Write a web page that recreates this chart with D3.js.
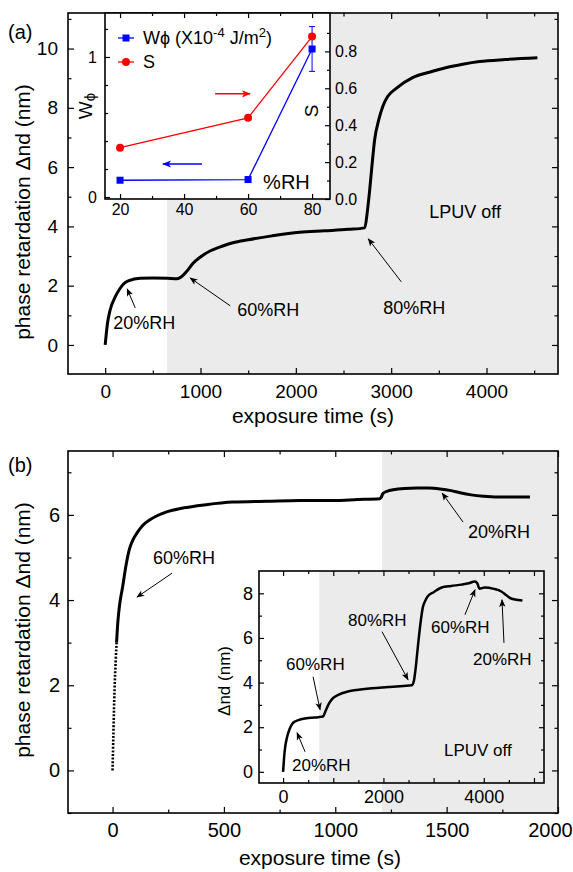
<!DOCTYPE html>
<html>
<head>
<meta charset="utf-8">
<title>Phase retardation vs exposure time</title>
<script src="https://d3js.org/d3.v7.min.js"></script>
<style>
	body { margin: 0; background: #fff; }
	text { font-family: "Liberation Sans", Arial, Helvetica, sans-serif; fill: #000; }
</style>
</head>
<body>
<script>
// ---- panel (a), main curve: exposure time (s) / phase retardation (nm)
var timeA = [0, 25, 52, 105, 150, 190, 250, 367, 500, 650, 754, 800, 860, 920, 1000, 1100, 1200, 1340, 1500, 1750,
	2040, 2300, 2550, 2723, 2750, 2775, 2800, 2827, 2870, 2911, 2963, 3050, 3225, 3400, 3581, 3750, 3927, 4200, 4534];
var retA = [0, 0.75, 1.18, 1.62, 1.88, 2.05, 2.17, 2.25, 2.26, 2.25, 2.23, 2.3, 2.5, 2.75, 2.97, 3.17, 3.3, 3.45, 3.55, 3.68,
	3.8, 3.85, 3.9, 3.95, 4.5, 5.24, 6.1, 6.93, 7.6, 8.04, 8.38, 8.65, 9.02, 9.2, 9.36, 9.47, 9.56, 9.63, 9.69];

// ---- panel (a), inset: anchoring energy and order parameter vs humidity
var rhLevels = [20, 60, 80];
var wphi = [0.12, 0.125, 1.057];
var wphiErr = [0, 0, 0.16];
var orderS = [0.278, 0.44, 0.88];

// ---- panel (b), main curve
var timeB = [0, 4, 9, 14, 18, 24, 32, 45, 60, 76, 95, 108, 121, 145, 166, 200, 243, 315, 420, 540,
	692, 840, 990, 1100, 1200, 1207, 1214, 1235, 1260, 1310, 1366, 1420, 1470, 1520, 1560, 1610, 1665, 1770, 1874];
var retB = [0, 0.9, 1.9, 2.55, 3.0, 3.5, 3.9, 4.3, 4.8, 5.2, 5.45, 5.56, 5.66, 5.8, 5.88, 5.98, 6.07, 6.16, 6.24, 6.3,
	6.32, 6.34, 6.34, 6.36, 6.38, 6.42, 6.5, 6.56, 6.59, 6.62, 6.63, 6.63, 6.61, 6.57, 6.52, 6.47, 6.44, 6.42, 6.42];
var dottedUntil = 4; // first points are drawn as dots

// ---- panel (b), inset curve
var timeBin = [0, 30, 80, 130, 180, 260, 380, 550, 700, 795, 850, 900, 975, 1100, 1290, 1500, 1770, 2100, 2400, 2565,
	2605, 2640, 2685, 2735, 2785, 2830, 2880, 3000, 3160, 3350, 3560, 3700, 3820, 3870, 3915, 4015, 4200, 4350, 4430, 4510, 4620, 4770];
var retBin = [0, 0.9, 1.56, 1.92, 2.14, 2.28, 2.37, 2.42, 2.45, 2.48, 2.75, 3.0, 3.26, 3.45, 3.6, 3.68, 3.75, 3.8, 3.85, 3.88,
	4.06, 4.6, 5.58, 6.6, 7.37, 7.65, 7.86, 8.05, 8.26, 8.33, 8.39, 8.45, 8.53, 8.45, 8.21, 8.26, 8.2, 8.08, 7.95, 7.81, 7.72, 7.68];

// tick values
var ticksA_x = [0, 1000, 2000, 3000, 4000], minorA_x = [500, 1500, 2500, 3500, 4500];
var ticksA_y = [0, 2, 4, 6, 8, 10], minorA_y = [1, 3, 5, 7, 9, 11];
var ticksI_x = [20, 40, 60, 80], minorI_x = [30, 50, 70];
var ticksI_w = [0, 1], minorI_w = [0.2, 0.4, 0.6, 0.8, 1.2];
var ticksI_s = [0, 0.2, 0.4, 0.6, 0.8], minorI_s = [0.1, 0.3, 0.5, 0.7, 0.9];
var ticksB_x = [0, 500, 1000, 1500, 2000], minorB_x = [250, 750, 1250, 1750];
var ticksB_y = [0, 2, 4, 6], minorB_y = [-1, 1, 3, 5, 7];
var ticksC_x = [0, 1000, 2000, 3000, 4000, 5000], labelsC_x = [0, 2000, 4000], minorC_x = [500, 1500, 2500, 3500, 4500];
var ticksC_y = [0, 2, 4, 6, 8], minorC_y = [1, 3, 5, 7];

var FONT = '"Liberation Sans", Arial, Helvetica, sans-serif';
var SHADE = "#ebebeb";

var svg = d3.select("body").append("svg").attr("width", 573).attr("height", 872);
var defs = svg.append("defs");

function marker(id, color, w, h) {
	defs.append("marker").attr("id", id)
		.attr("viewBox", "0 0 10 10").attr("refX", 9).attr("refY", 5)
		.attr("markerWidth", w).attr("markerHeight", h)
		.attr("markerUnits", "userSpaceOnUse").attr("orient", "auto")
		.append("path").attr("d", "M0,1 L10,5 L0,9 L2.5,5 Z").attr("fill", color);
}
marker("ah", "#000", 9, 8);
marker("ahRed", "#ff0000", 11, 9);
marker("ahBlue", "#0000ff", 11, 9);

// inward ticks with d3 axes
function ticks(g, scale, orient, pos, vals, len, fs, pad, fmt) {
	var fn = {bottom: d3.axisBottom, top: d3.axisTop, left: d3.axisLeft, right: d3.axisRight}[orient];
	var ax = fn(scale).tickValues(vals).tickSizeInner(-len).tickSizeOuter(0).tickPadding(pad || 0)
		.tickFormat(fmt || function () { return ""; });
	var horiz = orient == "bottom" || orient == "top";
	var sel = g.append("g")
		.attr("transform", horiz ? "translate(0," + pos + ")" : "translate(" + pos + ",0)")
		.call(ax);
	sel.select(".domain").remove();
	sel.selectAll(".tick line").attr("stroke", "#000").attr("stroke-width", 1.2);
	sel.selectAll(".tick text").attr("font-size", fs).attr("font-family", FONT).attr("fill", "#000");
	return sel;
}

function box(g, x, y) {
	g.append("rect")
		.attr("x", x.range()[0]).attr("y", y.range()[1])
		.attr("width", x.range()[1] - x.range()[0]).attr("height", y.range()[0] - y.range()[1])
		.attr("fill", "none").attr("stroke", "#000").attr("stroke-width", 1.6);
}

function shade(g, x, y, from) {
	g.append("rect")
		.attr("x", x(from)).attr("y", y.range()[1])
		.attr("width", x.range()[1] - x(from)).attr("height", y.range()[0] - y.range()[1])
		.attr("fill", SHADE);
}

function note(g, x, y, label, tx, ty, x1, y1, x2, y2, fs) {
	g.append("line")
		.attr("x1", x(x1)).attr("y1", y(y1)).attr("x2", x(x2)).attr("y2", y(y2))
		.attr("stroke", "#000").attr("stroke-width", 1).attr("marker-end", "url(#ah)");
	g.append("text").attr("x", x(tx)).attr("y", y(ty)).attr("font-size", fs).text(label);
}

function curve(g, x, y, xs, ys, width, dash) {
	var pts = xs.map(function (d, i) { return [d, ys[i]]; });
	g.append("path")
		.datum(pts)
		.attr("d", d3.line().x(function (d) { return x(d[0]); }).y(function (d) { return y(d[1]); }).curve(d3.curveMonotoneX))
		.attr("fill", "none").attr("stroke", "#000").attr("stroke-width", width)
		.attr("stroke-linejoin", "round")
		.attr("stroke-dasharray", dash || null);
}

var num = function (d) { return d; };

// =================== panel (a) ===================
var gA = svg.append("g");
var xA = d3.scaleLinear().domain([-390, 4750]).range([68, 558]);
var yA = d3.scaleLinear().domain([-0.98, 11.2]).range([374, 13]);

shade(gA, xA, yA, 650);
ticks(gA, xA, "bottom", 374, ticksA_x, 6, 19, 11, num);
ticks(gA, xA, "bottom", 374, minorA_x, 3.5, 19);
ticks(gA, xA, "top", 13, ticksA_x, 6, 19);
ticks(gA, xA, "top", 13, minorA_x, 3.5, 19);
ticks(gA, yA, "left", 68, ticksA_y, 6, 19, 10, num);
ticks(gA, yA, "left", 68, minorA_y, 3.5, 19);
ticks(gA, yA, "right", 558, ticksA_y, 6, 19);
ticks(gA, yA, "right", 558, minorA_y, 3.5, 19);
box(gA, xA, yA);
curve(gA, xA, yA, timeA, retA, 3);

note(gA, xA, yA, "20%RH", 84, 0.54, 315, 1.25, 231, 1.89, 18);
note(gA, xA, yA, "60%RH", 1385, 0.98, 1312, 1.32, 892, 2.26, 18);
note(gA, xA, yA, "80%RH", 2917, 1.05, 3106, 2.13, 2760, 3.58, 18);
gA.append("text").attr("x", xA(3400)).attr("y", yA(4.29)).attr("font-size", 18).text("LPUV off");

gA.append("text").attr("x", 8).attr("y", 39).attr("font-size", 20).text("(a)");
gA.append("text").attr("transform", "translate(30,212) rotate(-90)").attr("text-anchor", "middle")
	.attr("font-size", 21).text("phase retardation \u0394nd (nm)");
gA.append("text").attr("x", 313).attr("y", 423).attr("text-anchor", "middle")
	.attr("font-size", 21).text("exposure time (s)");

// ---- inset (a)
var gI = svg.append("g");
var xI = d3.scaleLinear().domain([15.3, 85.6]).range([105, 330]);
var wI = d3.scaleLinear().domain([-0.014, 1.314]).range([199, 13]);
var sI = d3.scaleLinear().domain([0, 1.008]).range([199, 13]);

gI.append("rect").attr("x", 105).attr("y", 13).attr("width", 225).attr("height", 186).attr("fill", "#fff");
ticks(gI, xI, "bottom", 199, ticksI_x, 5, 16, 4.5, num);
ticks(gI, xI, "bottom", 199, minorI_x, 3, 16);
ticks(gI, xI, "top", 13, ticksI_x, 5, 16);
ticks(gI, xI, "top", 13, minorI_x, 3, 16);
ticks(gI, wI, "left", 105, ticksI_w, 5, 16, 8, num);
ticks(gI, wI, "left", 105, minorI_w, 3, 16);
ticks(gI, sI, "right", 330, ticksI_s, 5, 16, 5, d3.format(".1f"));
ticks(gI, sI, "right", 330, minorI_s, 3, 16);
box(gI, xI, wI);

var blue = "#0000ff", red = "#ff0000";
var lineW = d3.line().x(function (d, i) { return xI(rhLevels[i]); }).y(function (d) { return wI(d); });
var lineS = d3.line().x(function (d, i) { return xI(rhLevels[i]); }).y(function (d) { return sI(d); });
gI.append("path").datum(wphi).attr("d", lineW).attr("fill", "none").attr("stroke", blue).attr("stroke-width", 1.3);
gI.append("path").datum(orderS).attr("d", lineS).attr("fill", "none").attr("stroke", red).attr("stroke-width", 1.3);

// error bars
wphi.forEach(function (d, i) {
	if (!wphiErr[i]) return;
	var cx = xI(rhLevels[i]);
	gI.append("line").attr("x1", cx).attr("x2", cx).attr("y1", wI(d - wphiErr[i])).attr("y2", wI(d + wphiErr[i]))
		.attr("stroke", blue).attr("stroke-width", 1);
	[d - wphiErr[i], d + wphiErr[i]].forEach(function (v) {
		gI.append("line").attr("x1", cx - 3).attr("x2", cx + 3).attr("y1", wI(v)).attr("y2", wI(v))
			.attr("stroke", blue).attr("stroke-width", 1);
	});
});
gI.selectAll(".sq").data(wphi).enter().append("rect")
	.attr("x", function (d, i) { return xI(rhLevels[i]) - 3.5; })
	.attr("y", function (d) { return wI(d) - 3.5; })
	.attr("width", 7).attr("height", 7).attr("fill", blue);
gI.selectAll(".ci").data(orderS).enter().append("circle")
	.attr("cx", function (d, i) { return xI(rhLevels[i]); })
	.attr("cy", function (d) { return sI(d); })
	.attr("r", 4).attr("fill", red);

// legend
gI.append("line").attr("x1", 118).attr("x2", 134).attr("y1", 38).attr("y2", 38).attr("stroke", blue).attr("stroke-width", 1.3);
gI.append("rect").attr("x", 122.5).attr("y", 34.5).attr("width", 7).attr("height", 7).attr("fill", blue);
gI.append("line").attr("x1", 118).attr("x2", 134).attr("y1", 62).attr("y2", 62).attr("stroke", red).attr("stroke-width", 1.3);
gI.append("circle").attr("cx", 126).attr("cy", 62).attr("r", 4).attr("fill", red);
var lg = gI.append("text").attr("x", 143).attr("y", 44).attr("font-size", 18);
lg.append("tspan").text("W\u03d5 (X10");
lg.append("tspan").attr("dy", -7).attr("font-size", 13).text("-4");
lg.append("tspan").attr("dy", 7).text(" J/m");
lg.append("tspan").attr("dy", -7).attr("font-size", 13).text("2");
lg.append("tspan").attr("dy", 7).text(")");
gI.append("text").attr("x", 143).attr("y", 68).attr("font-size", 18).text("S");

// direction arrows
gI.append("line").attr("x1", xI(49.7)).attr("x2", xI(60.6)).attr("y1", sI(0.57)).attr("y2", sI(0.57))
	.attr("stroke", red).attr("stroke-width", 1.5).attr("marker-end", "url(#ahRed)");
gI.append("line").attr("x1", xI(45.6)).attr("x2", xI(33.4)).attr("y1", wI(0.236)).attr("y2", wI(0.236))
	.attr("stroke", blue).attr("stroke-width", 1.5).attr("marker-end", "url(#ahBlue)");

gI.append("text").attr("x", xI(64.7)).attr("y", wI(0.057)).attr("font-size", 20).text("%RH");
var wl = gI.append("text").attr("transform", "translate(92,106) rotate(-90)").attr("text-anchor", "middle").attr("font-size", 19);
wl.append("tspan").text("W");
wl.append("tspan").attr("font-size", 15).attr("dy", 3).text("\u03d5");
gI.append("text").attr("transform", "translate(318,111) rotate(-90)").attr("text-anchor", "middle")
	.attr("font-size", 19).text("S");

// =================== panel (b) ===================
var gB = svg.append("g");
var xB = d3.scaleLinear().domain([-200, 2000]).range([68, 558]);
var yB = d3.scaleLinear().domain([-1, 7.5]).range([813, 451]);

shade(gB, xB, yB, 1210);
var axB = ticks(gB, xB, "bottom", 813, ticksB_x, 6, 20, 10, num);
// last label sits at the page edge, nudge it inside
axB.selectAll(".tick text").filter(function (d) { return d == 2000; }).attr("dx", -8);
ticks(gB, xB, "bottom", 813, minorB_x, 3.5, 20);
ticks(gB, xB, "top", 451, ticksB_x, 6, 20);
ticks(gB, xB, "top", 451, minorB_x, 3.5, 20);
ticks(gB, yB, "left", 68, ticksB_y, 6, 20, 8, num);
ticks(gB, yB, "left", 68, minorB_y, 3.5, 20);
ticks(gB, yB, "right", 558, ticksB_y, 6, 20);
ticks(gB, yB, "right", 558, minorB_y, 3.5, 20);
box(gB, xB, yB);
curve(gB, xB, yB, timeB.slice(0, dottedUntil + 1), retB.slice(0, dottedUntil + 1), 2.6, "2,1.6");
curve(gB, xB, yB, timeB.slice(dottedUntil), retB.slice(dottedUntil), 3);

note(gB, xB, yB, "60%RH", 182, 4.85, 267, 4.63, 110, 4.07, 18);
note(gB, xB, yB, "20%RH", 1596, 5.46, 1574, 5.83, 1480, 6.51, 18);

gB.append("text").attr("x", 8).attr("y", 472).attr("font-size", 20).text("(b)");
gB.append("text").attr("transform", "translate(30,630) rotate(-90)").attr("text-anchor", "middle")
	.attr("font-size", 21).text("phase retardation \u0394nd (nm)");
gB.append("text").attr("x", 320).attr("y", 865).attr("text-anchor", "middle")
	.attr("font-size", 21).text("exposure time (s)");

// ---- inset (b)
var gC = svg.append("g");
var xC = d3.scaleLinear().domain([-480, 5200]).range([259, 544]);
var yC = d3.scaleLinear().domain([-0.5, 9]).range([783, 571]);

gC.append("rect").attr("x", 259).attr("y", 571).attr("width", 285).attr("height", 212).attr("fill", "#fff");
shade(gC, xC, yC, 720);
ticks(gC, xC, "bottom", 783, ticksC_x, 5, 18, 7, function (d) { return labelsC_x.indexOf(d) >= 0 ? d : ""; });
ticks(gC, xC, "bottom", 783, minorC_x, 3, 18);
ticks(gC, xC, "top", 571, ticksC_x, 5, 18);
ticks(gC, xC, "top", 571, minorC_x, 3, 18);
ticks(gC, yC, "left", 259, ticksC_y, 5, 18, 6, num);
ticks(gC, yC, "left", 259, minorC_y, 3, 18);
ticks(gC, yC, "right", 544, ticksC_y, 5, 18);
ticks(gC, yC, "right", 544, minorC_y, 3, 18);
box(gC, xC, yC);
curve(gC, xC, yC, timeBin, retBin, 2.5);

note(gC, xC, yC, "80%RH", 1295, 6.55, 1972, 6.28, 2490, 4.13, 17);
note(gC, xC, yC, "60%RH", 2948, 6.23, 3625, 7.04, 3825, 8.16, 17);
note(gC, xC, yC, "20%RH", 3785, 4.8, 4402, 5.78, 4363, 7.71, 17);
note(gC, xC, yC, "60%RH", 60, 4.57, 598, 4.26, 737, 2.78, 17);
note(gC, xC, yC, "20%RH", 179, 0.04, 438, 0.9, 279, 1.75, 17);
gC.append("text").attr("x", xC(3207)).attr("y", yC(0.72)).attr("font-size", 17).text("LPUV off");
gC.append("text").attr("transform", "translate(230,681) rotate(-90)").attr("text-anchor", "middle")
	.attr("font-size", 17).text("\u0394nd (nm)");
</script>
</body>
</html>
